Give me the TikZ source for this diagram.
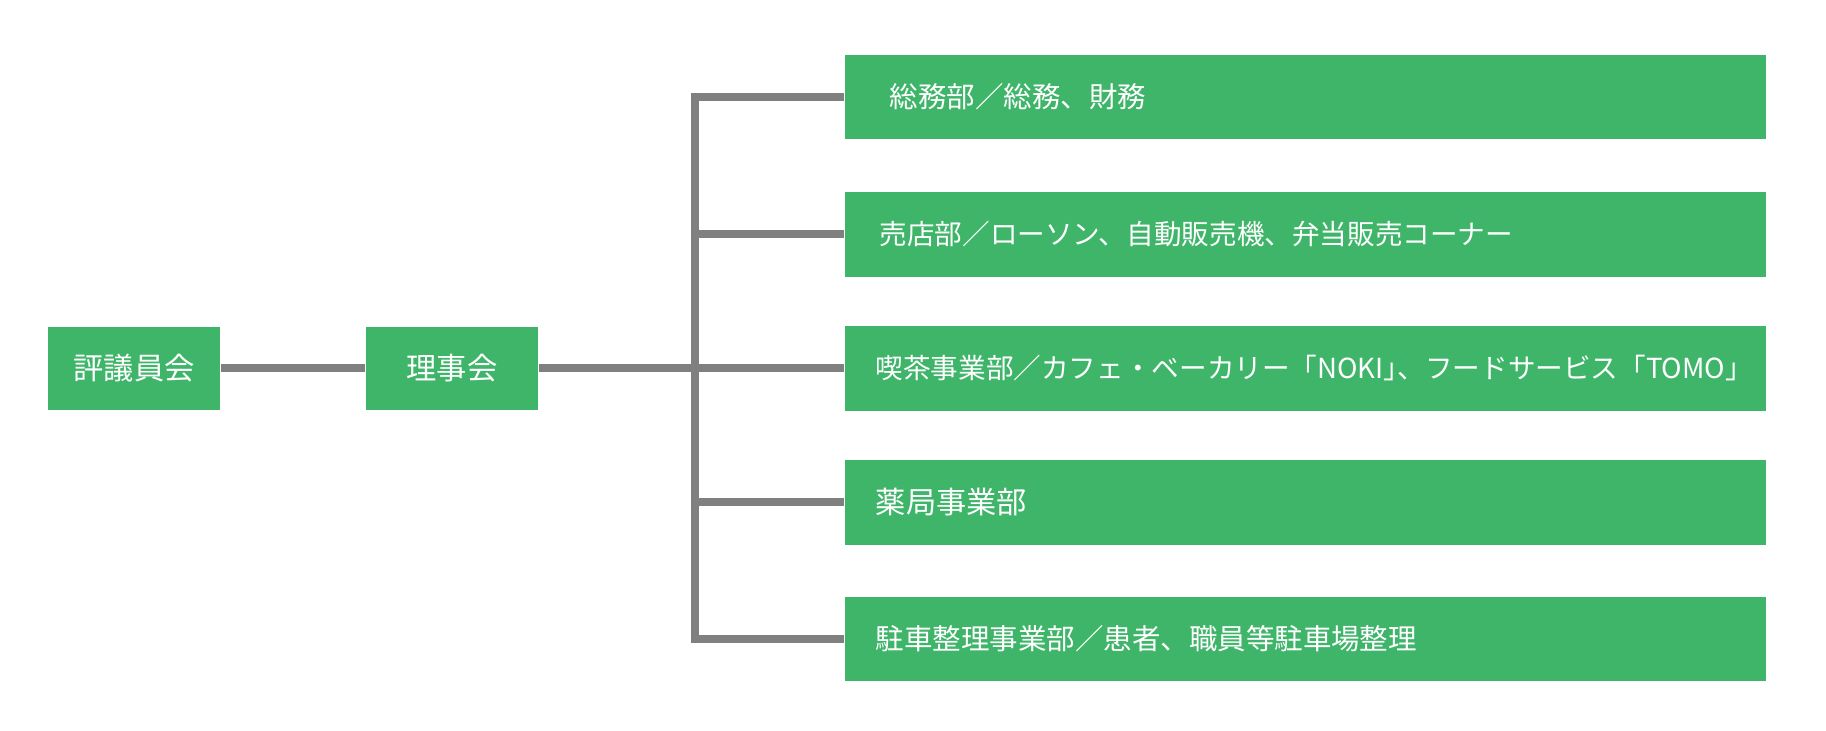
\documentclass[tikz,border=0pt]{standalone}
\usepackage{fontspec}
\setmainfont{Noto Sans CJK JP}
\usetikzlibrary{positioning}

\definecolor{boxgreen}{HTML}{3FB56A}
\definecolor{linegray}{HTML}{808080}

\tikzset{
  board/.style={rectangle, fill=boxgreen, text=white, minimum width=1.72cm, minimum height=0.83cm,
    inner sep=0, font=\fontsize{8.6pt}{10pt}\selectfont},
  dept/.style={rectangle, fill=boxgreen, minimum width=9.21cm, minimum height=0.84cm, inner sep=0},
  depttext/.style={text=white, inner sep=0, font=\fontsize{#1}{10pt}\selectfont},
  depttext/.default=8.1pt,
  conn/.style={draw=linegray, line width=0.08cm, line join=miter},
}

\begin{document}
\begin{tikzpicture}[x=0.01cm,y=-0.01cm]

\useasboundingbox (0,0) rectangle (1826,731);

\node (hyogiinkai)	at (134,368.5)	[board] {評議員会};
\node (rijikai)		at (452,368.5)	[board] {理事会};

\node (soumu)		at (1305.5,97)	[dept] {};
\node (baiten)		at (1305.5,234.5)	[dept] {};
\node (kissa)		at (1305.5,368.5)	[dept] {};
\node (yakkyoku)	at (1305.5,502.5)	[dept] {};
\node (chusha)		at (1305.5,639)	[dept] {};

\node (soumu_text)	[depttext, right=0.45cm of soumu.west] {総務部／総務、財務};
\node (baiten_text)	[depttext=7.85pt, right=0.35cm of baiten.west] {売店部／ローソン、自動販売機、弁当販売コーナー};
\node (kissa_text)	[depttext=7.85pt, right=0.31cm of kissa.west] {喫茶事業部／カフェ・ベーカリー「NOKI」\kern-0.5em、フードサービス「TOMO」};
\node (yakkyoku_text)	[depttext=8.6pt, right=0.31cm of yakkyoku.west] {薬局事業部};
\node (chusha_text)	[depttext, right=0.31cm of chusha.west] {駐車整理事業部／患者、職員等駐車場整理};

\coordinate (branch) at (694.5,0);

\draw [conn] (hyogiinkai.east) -- (rijikai.west);
\draw [conn] (rijikai.east) -- (kissa.west);
\draw [conn] (soumu.west) -- (soumu.west -| branch) -- (chusha.west -| branch) -- (chusha.west);
\draw [conn] (baiten.west -| branch) -- (baiten.west);
\draw [conn] (yakkyoku.west -| branch) -- (yakkyoku.west);

\end{tikzpicture}
\end{document}
